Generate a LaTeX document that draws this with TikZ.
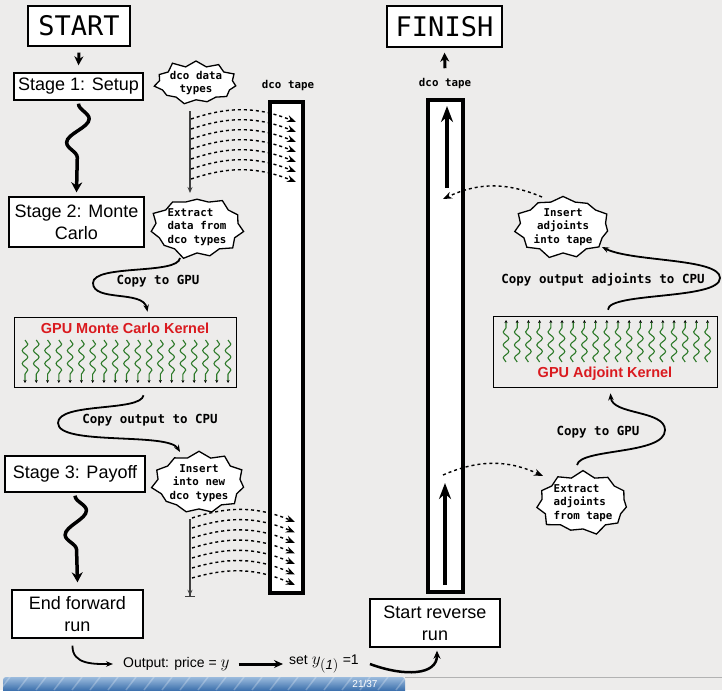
\documentclass[tikz,border=0pt]{standalone}
\usepackage{fontspec}
\setmainfont{Liberation Sans}
\setmonofont{DejaVu Sans Mono}
\usepackage{tikz}
\usetikzlibrary{arrows,arrows.meta,shapes,shapes.symbols,calc,positioning,decorations.pathmorphing}
\definecolor{SlideGrey}{HTML}{EDECEB}
\definecolor{KernelRed}{HTML}{DA1A1F}
\definecolor{ThreadGreen}{HTML}{2E7A2A}
\definecolor{BarBlue}{HTML}{3F72AE}
\definecolor{BarLight}{HTML}{9BBBDD}

\begin{document}
\begin{tikzpicture}[x=1pt, y=-1pt, >=stealth,
    stagebox/.style={draw, line width=1.4pt, fill=white, align=center, inner sep=0pt,
      font=\fontsize{18}{22}\selectfont},
    titlebox/.style={draw, line width=1.4pt, fill=white, inner sep=0pt,
      font=\fontsize{27}{30}\ttfamily},
    kernel/.style={draw, line width=1.6pt},
    kernellabel/.style={text=KernelRed, font=\fontsize{14.5}{16}\selectfont\bfseries},
    tape/.style={draw, line width=4pt, fill=white, inner sep=0pt},
    tapelabel/.style={font=\fontsize{10.8}{13}\ttfamily\bfseries},
    burst/.style={starburst, starburst points=11, starburst point height=7pt,
      draw, line width=1.3pt, fill=white, inner sep=0pt,
      font=\fontsize{10.8}{13.3}\ttfamily\bfseries},
    copylabel/.style={font=\fontsize{12.5}{14}\ttfamily\bfseries},
    outlabel/.style={inner sep=3pt, font=\fontsize{14}{16}\selectfont},
    bigsnake/.style={line width=3.5pt, -{Stealth[length=10pt,width=11pt]}, decorate,
      decoration={snake, amplitude=11pt, segment length=48pt, post length=18pt}},
    thread/.style={ThreadGreen, line width=1.1pt, -{Stealth[length=3pt,width=3pt,color=black]},
      decorate, decoration={snake, amplitude=2.8pt, segment length=13pt, post length=3pt}},
    copyline/.style={line width=1.8pt, -{Stealth[length=7pt,width=5.5pt]}},
    tapewrite/.style={dashed, line width=1.4pt, -{Stealth[length=9pt,width=7pt]}},
    tapearrow/.style={line width=4pt, -{Stealth[length=16pt,width=12pt]}},
    trunk/.style={line width=1.2pt, draw=black!75},
  ]
  % slide background
  \fill[SlideGrey] (0,0) rectangle (722,690);
  \useasboundingbox (0,0) rectangle (722,690);

  % forward sweep
  \node[titlebox, minimum width=102pt, minimum height=40pt] (start) at (79,26) {START};
  \node[stagebox, minimum width=129pt, minimum height=27pt] (stage1) at (78.5,86.5) {Stage 1: Setup};
  \node[stagebox, minimum width=135pt, minimum height=50pt] (stage2) at (76.5,222) {Stage 2: Monte\\Carlo};
  \node[stagebox, minimum width=140pt, minimum height=36pt] (stage3) at (75,474) {Stage 3: Payoff};
  \node[stagebox, minimum width=131pt, minimum height=48pt] (endfwd) at (77.5,614) {End forward\\run};

  \draw[line width=3pt, -{Stealth[length=9pt,width=9pt]}] ([yshift=-6pt]start.south) -- ([yshift=7pt]stage1.north);
  \draw[bigsnake] ([yshift=-3pt]stage1.south) -- ([yshift=4pt]stage2.north);
  \draw[bigsnake] ([yshift=-3pt]stage3.south) -- ([yshift=7pt]endfwd.north);

  % the tapes
  \node[tape, minimum width=33pt, minimum height=491pt] (tapeL) at (286.5,347.5) {};
  \node[tape, minimum width=35pt, minimum height=492pt] (tapeR) at (445.5,346) {};
  \node[tapelabel] (tapeLlabel) at (288,86) {dco tape};
  \node[tapelabel] (tapeRlabel) at (445,84) {dco tape};

  % bursts
  \node[burst, random starburst=11, minimum width=78pt, minimum height=45pt, align=center] (types) at (196,83) {dco data\\types};
  \node[burst, random starburst=23, minimum width=87pt, minimum height=65pt, align=left] (extract) at (197,227) {Extract\\data from\\dco types};
  \node[burst, random starburst=37, minimum width=88pt, minimum height=60pt, align=center] (insert) at (199,483) {Insert\\into new\\dco types};
  \node[burst, random starburst=41, minimum width=100pt, minimum height=61pt, align=center] (insadj) at (563,227) {Insert\\adjoints\\into tape};
  \node[burst, random starburst=53, minimum width=95pt, minimum height=62pt, align=left] (extadj) at (583,503) {Extract\\adjoints\\from tape};

  % writing to the tape
  \coordinate (trunkAtop) at (190,111);
  \coordinate (trunkAbot) at (190,193);
  \draw[trunk, -{Stealth[length=6pt,width=5pt]}] (trunkAtop) -- (trunkAbot);
  \foreach \k in {0,...,6} {
    \coordinate (wA\k) at (191,{119+10*\k});
    \coordinate (tA\k) at (296,{122+10*\k});
    \draw[tapewrite] (wA\k) to[bend left=20] (tA\k);
  }
  \coordinate (trunkBtop) at (190,519);
  \coordinate (trunkBbot) at (190,597);
  \draw[trunk, -{Stealth[length=6pt,width=5pt] Bar[width=10pt]}] (trunkBtop) -- (trunkBbot);
  \foreach \k in {0,...,6} {
    \coordinate (wB\k) at (192,{518+10*\k});
    \coordinate (tB\k) at (295,{522+10.5*\k});
    \draw[tapewrite] (wB\k) to[bend left=20] (tB\k);
  }

  % GPU kernels
  \node[kernel, minimum width=222pt, minimum height=70pt] (mckernel) at (125.5,352.5) {};
  \node[kernellabel] (mclabel) at (125,328) {GPU Monte Carlo Kernel};
  \foreach \i in {0,...,18}
    \draw[thread] ({25+11.28*\i},340) -- ({25+11.28*\i},383);

  \node[kernel, minimum width=224pt, minimum height=71pt] (adjkernel) at (605.5,352) {};
  \node[kernellabel] (adjlabel) at (605,374) {GPU Adjoint Kernel};
  \foreach \i in {0,...,18}
    \draw[thread] ({506+11.2*\i},362) -- ({506+11.2*\i},320);

  % copies between CPU and GPU
  \draw[copyline] ([shift={(-17,31)}]extract.center) .. controls (178,275) and (93,264) .. (93,283)
    .. controls (93,302) and (143,290) .. ([xshift=22pt,yshift=5pt]mckernel.north);
  \node[copylabel] (copygpuL) at (158,281) {Copy to GPU};
  \draw[copyline] ([xshift=18pt,yshift=-7pt]mckernel.south) .. controls (141,412) and (58,402) .. (58,423)
    .. controls (58,446) and (168,432) .. ([shift={(-19,-31)}]insert.center);
  \node[copylabel] (copycpuL) at (150,420) {Copy output to CPU};

  \draw[copyline] ([shift={(-6,-38)}]extadj.center) .. controls (580,448) and (665,455) .. (665,430)
    .. controls (665,410) and (612,415) .. ([xshift=5pt,yshift=-5pt]adjkernel.south);
  \node[copylabel] (copygpuR) at (598,432) {Copy to GPU};
  \draw[copyline] ([xshift=2.5pt,yshift=6pt]adjkernel.north) .. controls (608,292) and (720,300) .. (720,278)
    .. controls (720,258) and (632,262) .. ([shift={(39,20)}]insadj.center);
  \node[copylabel] (copycpuR) at (603,280) {Copy output adjoints to CPU};

  % reverse sweep
  \node[titlebox, minimum width=115pt, minimum height=41pt] (finish) at (444.5,26.5) {FINISH};
  \node[stagebox, minimum width=130pt, minimum height=48pt] (startrev) at (435,623) {Start reverse\\run};
  \draw[line width=3pt, -{Stealth[length=9pt,width=9pt]}] ([yshift=7pt]tapeRlabel.north) -- ([yshift=-5pt]finish.south);

  \coordinate (upAbot) at (447,188);
  \coordinate (upAtop) at (447,106);
  \draw[tapearrow] (upAbot) -- (upAtop);
  \coordinate (upBbot) at (445,585);
  \coordinate (upBtop) at (445,483);
  \draw[tapearrow] (upBbot) -- (upBtop);

  \coordinate (readR) at (443,475);
  \draw[tapewrite] (readR) to[bend left=24] ([shift={(-40,-27)}]extadj.center);
  \coordinate (writeR) at (443,199);
  \draw[tapewrite] ([shift={(-21,-30)}]insadj.center) to[bend right=24] (writeR);

  % output and seeding
  \node[outlabel, anchor=west] (output) at (120,664) {Output: price = {\fontsize{19}{20}\selectfont$y$}};
  \node[outlabel, anchor=west] (setone) at (286,664) {set {\fontsize{19}{20}\selectfont$y_{(\mathit{1})}$} =1};
  \draw[copyline] ([xshift=-5pt,yshift=-7pt]endfwd.south) .. controls (72,665) and (95,664) .. ([xshift=-7pt]output.west);
  \draw[line width=3pt, -{Stealth[length=9pt,width=8pt]}] ([xshift=6pt]output.east) -- ([xshift=-3pt]setone.west);
  \draw[line width=2.5pt, -{Stealth[length=8pt,width=7pt]}] ([xshift=8pt]setone.east) .. controls (405,677) and (437,675) .. ([xshift=2pt,yshift=-3pt]startrev.south);

  % beamer footer
  \draw[gray!60, line width=0.8pt] (405,677.5) -- (722,677.5);
  \begin{scope}
    \clip[rounded corners=3pt] (3,677) rectangle (405,695);
    \shade[top color=BarLight, bottom color=BarBlue] (3,677) rectangle (405,690);
    \foreach \s in {0,18,...,420}
      \draw[white, opacity=0.25, line width=1.5pt] (\s,690) -- (\s+10,677);
  \end{scope}
  \node[text=white, font=\fontsize{10}{11}\selectfont] (pageno) at (365,684) {21/37};
\end{tikzpicture}
\end{document}
